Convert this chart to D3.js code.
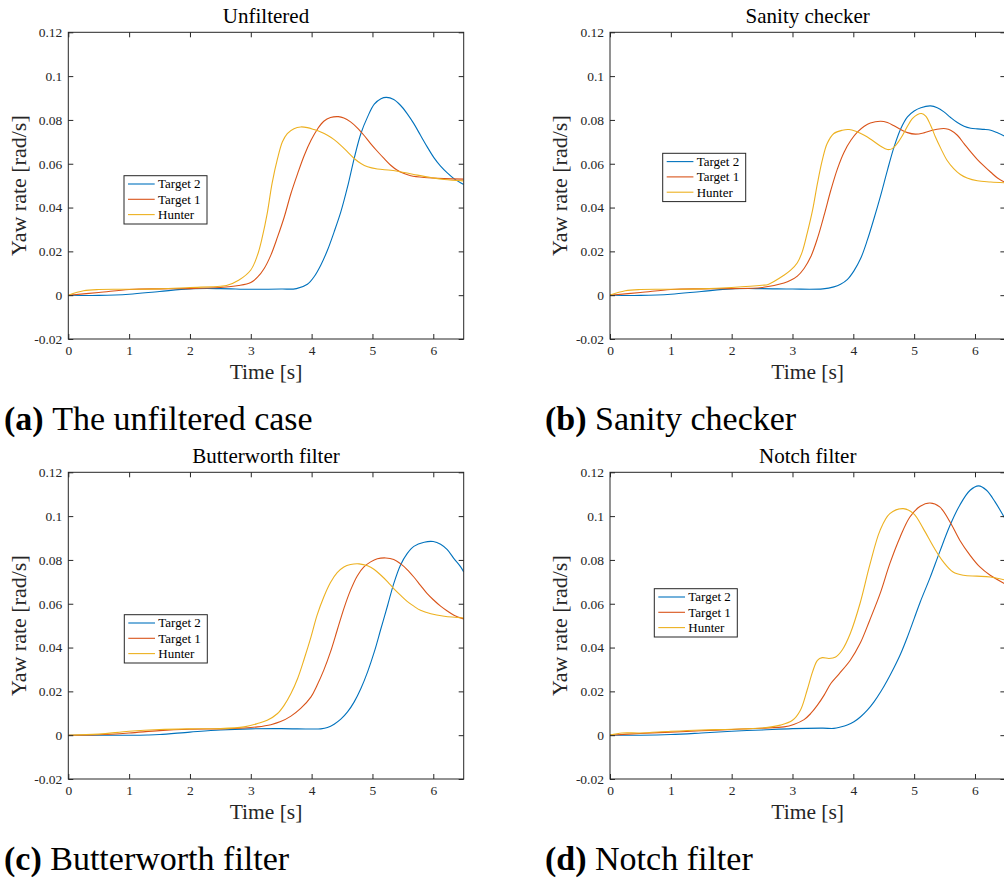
<!DOCTYPE html>
<html>
<head>
<meta charset="utf-8">
<script src="https://cdn.jsdelivr.net/npm/d3@7"></script>
<style>
  html, body { margin: 0; padding: 0; background: #fff; }
  svg { display: block; }
  text { font-family: "Liberation Serif", "Times New Roman", serif; }
</style>
</head>
<body>
<svg id="fig" width="1004" height="879"></svg>
<script>
// Yaw rate [rad/s] against time [s]; each series is a list of [time, yaw rate] pairs.

// (a) Unfiltered
const unfilteredTarget2 = [[0,0],[0.5,-0.0001],[1.0,0.0004],[1.5,0.0017],[2.0,0.0029],[2.5,0.003],[3.0,0.0027],[3.5,0.0028],[3.75,0.003],[3.93,0.005],[4.04,0.0084],[4.15,0.0137],[4.26,0.0205],[4.37,0.0289],[4.48,0.038],[4.59,0.0494],[4.7,0.0625],[4.81,0.0738],[4.92,0.0814],[5.03,0.0872],[5.14,0.0897],[5.23,0.0903],[5.35,0.0893],[5.46,0.0867],[5.57,0.0829],[5.68,0.0783],[5.79,0.073],[5.9,0.0677],[6.01,0.0628],[6.12,0.0589],[6.23,0.0558],[6.34,0.0532],[6.5,0.0505]];
const unfilteredTarget1 = [[0,0],[0.5,0.0012],[1.0,0.0026],[1.5,0.0029],[2.0,0.003],[2.5,0.0035],[2.8,0.0044],[3.0,0.0058],[3.11,0.0082],[3.22,0.0122],[3.33,0.0183],[3.44,0.0266],[3.55,0.0357],[3.66,0.0464],[3.77,0.0555],[3.88,0.0639],[3.99,0.0707],[4.1,0.076],[4.2,0.0794],[4.31,0.0811],[4.44,0.0815],[4.53,0.0809],[4.64,0.0791],[4.75,0.0764],[4.86,0.073],[4.97,0.0692],[5.08,0.0657],[5.19,0.0624],[5.3,0.0593],[5.41,0.057],[5.52,0.0555],[5.63,0.0545],[5.85,0.0537],[6.18,0.0532],[6.5,0.053]];
const unfilteredHunter = [[0,0],[0.25,0.002],[0.5,0.0026],[1.0,0.0027],[1.5,0.0029],[2.0,0.0035],[2.5,0.0041],[2.6,0.0044],[2.8,0.0068],[3.0,0.0115],[3.11,0.0183],[3.19,0.0266],[3.27,0.0373],[3.35,0.051],[3.44,0.0624],[3.52,0.07],[3.6,0.0738],[3.71,0.076],[3.82,0.0768],[3.93,0.0765],[4.04,0.0756],[4.15,0.0745],[4.26,0.073],[4.37,0.071],[4.48,0.0684],[4.59,0.0654],[4.7,0.0624],[4.81,0.0601],[4.92,0.0586],[5.08,0.0576],[5.3,0.057],[5.52,0.056],[5.74,0.0548],[5.96,0.0537],[6.18,0.0528],[6.5,0.0522]];

// (b) Sanity checker
const sanityTarget2 = [[0,0],[0.5,-0.0001],[1.0,0.0004],[1.5,0.0017],[2.0,0.0029],[2.5,0.003],[3.0,0.0028],[3.5,0.0029],[3.68,0.0038],[3.79,0.005],[3.9,0.0071],[4.01,0.0111],[4.12,0.0167],[4.23,0.0251],[4.34,0.035],[4.45,0.0456],[4.56,0.057],[4.67,0.0677],[4.78,0.076],[4.89,0.0814],[5.0,0.0841],[5.11,0.0856],[5.27,0.0864],[5.38,0.0856],[5.49,0.0837],[5.6,0.0811],[5.71,0.0788],[5.82,0.0771],[5.93,0.0762],[6.04,0.0759],[6.15,0.0757],[6.26,0.0753],[6.37,0.0741],[6.5,0.0724]];
const sanityTarget1 = [[0,0],[0.5,0.0012],[1.0,0.0026],[1.5,0.0029],[2.0,0.003],[2.5,0.0035],[2.86,0.0056],[2.97,0.0068],[3.08,0.0087],[3.19,0.0122],[3.3,0.0175],[3.41,0.0259],[3.52,0.0365],[3.63,0.0479],[3.74,0.0578],[3.85,0.0654],[3.96,0.0707],[4.07,0.0745],[4.18,0.0771],[4.28,0.0786],[4.45,0.0794],[4.56,0.0788],[4.67,0.0773],[4.78,0.0756],[4.89,0.0742],[5.02,0.0735],[5.16,0.0741],[5.3,0.0753],[5.44,0.076],[5.52,0.076],[5.6,0.0753],[5.71,0.073],[5.82,0.0692],[5.93,0.0654],[6.04,0.0619],[6.15,0.0589],[6.26,0.0561],[6.37,0.0535],[6.5,0.0514]];
const sanityHunter = [[0,0],[0.25,0.002],[0.5,0.0026],[1.0,0.0027],[1.5,0.0029],[2.0,0.0035],[2.5,0.0045],[2.6,0.0049],[2.86,0.0091],[2.97,0.0114],[3.08,0.0148],[3.16,0.0198],[3.24,0.0281],[3.33,0.0388],[3.41,0.051],[3.49,0.0616],[3.57,0.0692],[3.68,0.0738],[3.82,0.0753],[3.93,0.0756],[4.04,0.0748],[4.18,0.073],[4.31,0.0707],[4.45,0.068],[4.56,0.0665],[4.64,0.0669],[4.72,0.0692],[4.81,0.073],[4.89,0.0771],[4.97,0.0806],[5.05,0.0824],[5.12,0.0829],[5.19,0.0817],[5.27,0.0776],[5.35,0.0722],[5.44,0.0669],[5.54,0.0616],[5.65,0.0578],[5.76,0.0551],[5.87,0.0535],[6.04,0.0522],[6.26,0.0517],[6.5,0.0513]];

// (c) Butterworth filter
const butterTarget2 = [[0,0],[0.5,0],[1.0,0],[1.3,0.0001],[1.5,0.0003],[2.0,0.0014],[2.5,0.0024],[3.0,0.0029],[3.5,0.003],[4.0,0.0028],[4.15,0.0029],[4.26,0.0035],[4.37,0.005],[4.48,0.0073],[4.59,0.0106],[4.7,0.0152],[4.81,0.0213],[4.92,0.0289],[5.03,0.038],[5.14,0.0487],[5.25,0.0593],[5.35,0.0692],[5.46,0.0776],[5.57,0.0829],[5.68,0.0862],[5.85,0.0881],[6.0,0.0884],[6.12,0.0872],[6.23,0.0847],[6.34,0.0806],[6.45,0.0768],[6.5,0.0745]];
const butterTarget1 = [[0,0],[0.5,0.0002],[1.0,0.001],[1.5,0.0021],[2.0,0.0027],[2.5,0.0029],[2.89,0.0033],[3.11,0.0038],[3.33,0.0048],[3.49,0.0062],[3.66,0.0087],[3.82,0.0122],[3.99,0.0175],[4.09,0.0228],[4.2,0.0297],[4.31,0.038],[4.42,0.0479],[4.53,0.0578],[4.64,0.0662],[4.75,0.0727],[4.86,0.0768],[4.97,0.0791],[5.08,0.0805],[5.22,0.0809],[5.35,0.0802],[5.46,0.0783],[5.57,0.0756],[5.68,0.0722],[5.79,0.0684],[5.9,0.0646],[6.01,0.0616],[6.12,0.0589],[6.23,0.0567],[6.34,0.0548],[6.5,0.0531]];
const butterHunter = [[0,0],[0.5,0.0005],[1.0,0.0018],[1.5,0.0026],[2.0,0.0029],[2.5,0.003],[2.89,0.0038],[3.11,0.0053],[3.27,0.0068],[3.44,0.0099],[3.55,0.0137],[3.66,0.019],[3.77,0.0259],[3.88,0.035],[3.99,0.0449],[4.09,0.0548],[4.2,0.0631],[4.31,0.0697],[4.42,0.0742],[4.53,0.0768],[4.64,0.0779],[4.78,0.0782],[4.92,0.0773],[5.03,0.0756],[5.14,0.073],[5.25,0.07],[5.35,0.0669],[5.46,0.0639],[5.57,0.0611],[5.68,0.0589],[5.79,0.057],[5.96,0.0554],[6.18,0.0543],[6.5,0.0535]];

// (d) Notch filter
const notchTarget2 = [[0,0],[0.5,0],[1.0,0.0003],[1.5,0.001],[2.0,0.0018],[2.5,0.0024],[3.0,0.003],[3.5,0.0032],[3.68,0.0031],[3.79,0.0037],[3.9,0.0046],[4.01,0.0061],[4.12,0.0084],[4.23,0.0114],[4.34,0.0152],[4.45,0.0198],[4.56,0.0251],[4.67,0.0309],[4.78,0.0373],[4.89,0.0449],[5.0,0.0532],[5.1,0.0608],[5.26,0.0718],[5.42,0.0837],[5.59,0.0958],[5.75,0.105],[5.92,0.1118],[6.06,0.1138],[6.19,0.1118],[6.33,0.1065],[6.5,0.0985]];
const notchTarget1 = [[0,0],[0.5,0.0008],[1.0,0.0014],[1.5,0.002],[2.0,0.0026],[2.5,0.0032],[2.86,0.0038],[3.02,0.0049],[3.19,0.0071],[3.3,0.0099],[3.41,0.0137],[3.52,0.0183],[3.63,0.0236],[3.76,0.0278],[3.95,0.0342],[4.11,0.0418],[4.27,0.0525],[4.44,0.0646],[4.6,0.0783],[4.77,0.0905],[4.93,0.0996],[5.1,0.1045],[5.26,0.106],[5.42,0.1042],[5.59,0.0973],[5.75,0.089],[5.92,0.0821],[6.08,0.0768],[6.25,0.073],[6.5,0.069]];
const notchHunter = [[0,0],[0.2,0.001],[0.5,0.001],[1.0,0.0018],[1.5,0.0024],[2.0,0.0027],[2.5,0.0033],[2.8,0.0046],[3.0,0.0068],[3.13,0.0114],[3.24,0.0205],[3.33,0.0289],[3.41,0.0342],[3.49,0.0354],[3.6,0.035],[3.71,0.0357],[3.82,0.039],[3.95,0.0464],[4.11,0.0601],[4.27,0.0776],[4.44,0.0935],[4.6,0.1011],[4.82,0.1034],[4.99,0.1011],[5.15,0.0943],[5.32,0.0859],[5.48,0.0791],[5.64,0.0745],[5.81,0.073],[6.03,0.0726],[6.25,0.0722],[6.5,0.0708]];

const seriesNames = ["Target 2", "Target 1", "Hunter"];
const seriesColors = ["#0072BD", "#D95319", "#EDB120"];
const xTicks = [0, 1, 2, 3, 4, 5, 6];
const yTicks = [-0.02, 0, 0.02, 0.04, 0.06, 0.08, 0.1, 0.12];
const yTickLabels = ["-0.02", "0", "0.02", "0.04", "0.06", "0.08", "0.1", "0.12"];
const titles = ["Unfiltered", "Sanity checker", "Butterworth filter", "Notch filter"];
const captionTags = ["(a)", "(b)", "(c)", "(d)"];
const captionTexts = ["The unfiltered case", "Sanity checker", "Butterworth filter", "Notch filter"];
const panelData = [
  [unfilteredTarget2, unfilteredTarget1, unfilteredHunter],
  [sanityTarget2, sanityTarget1, sanityHunter],
  [butterTarget2, butterTarget1, butterHunter],
  [notchTarget2, notchTarget1, notchHunter]
];

// Layout of the 2x2 grid
const plotW = 395.4, plotH = 306.7;
const panelOrigins = [[68.3, 32.3], [610, 32.3], [68.3, 472.3], [610, 472.3]];
const yLabelX = [25.5, 567.2, 25.5, 567.2];
const legendOffsets = [[55.7, 143.4], [52.7, 121], [56, 142.4], [44.3, 116.4]];
const captionPos = [[4, 429.5], [545, 429.5], [4, 869.5], [545, 869.5]];
const axisColor = "#262626";
const fontStack = '"Liberation Serif", "Times New Roman", serif';

const svg = d3.select("#fig");
svg.append("rect").attr("width", 1004).attr("height", 879).attr("fill", "#fff");

const x = d3.scaleLinear().domain([0, 6.5]).range([0, plotW]);
const y = d3.scaleLinear().domain([-0.02, 0.12]).range([plotH, 0]);
const line = d3.line().x(d => x(d[0])).y(d => y(d[1])).curve(d3.curveCatmullRom.alpha(0.5));

panelData.forEach((series, i) => {
  const [ox, oy] = panelOrigins[i];
  const g = svg.append("g").attr("transform", `translate(${ox},${oy})`);

  const clipId = "clip" + i;
  g.append("clipPath").attr("id", clipId)
    .append("rect").attr("width", plotW).attr("height", plotH);

  // curves
  const curves = g.append("g").attr("clip-path", `url(#${clipId})`);
  series.forEach((s, k) => {
    curves.append("path").datum(s)
      .attr("d", line)
      .attr("fill", "none")
      .attr("stroke", seriesColors[k])
      .attr("stroke-width", 1.1)
      .attr("stroke-linejoin", "round");
  });

  // axes with inward ticks on all four sides
  const styleAxis = sel => {
    sel.select(".domain").remove();
    sel.selectAll(".tick line").attr("stroke", axisColor);
    sel.selectAll(".tick text").attr("fill", axisColor)
      .style("font-family", fontStack)
      .style("font-size", "13.5px");
  };
  g.append("g").attr("transform", `translate(0,${plotH})`)
    .call(d3.axisBottom(x).tickValues(xTicks).tickFormat(d3.format("d")).tickSize(-5).tickPadding(6.5))
    .call(styleAxis);
  g.append("g")
    .call(d3.axisTop(x).tickValues(xTicks).tickFormat("").tickSize(-5))
    .call(styleAxis);
  g.append("g")
    .call(d3.axisLeft(y).tickValues(yTicks).tickFormat((d, j) => yTickLabels[j]).tickSize(-5).tickPadding(6))
    .call(styleAxis);
  g.append("g").attr("transform", `translate(${plotW},0)`)
    .call(d3.axisRight(y).tickValues(yTicks).tickFormat("").tickSize(-5))
    .call(styleAxis);

  g.append("rect").attr("width", plotW).attr("height", plotH)
    .attr("fill", "none").attr("stroke", axisColor).attr("stroke-width", 1);

  // title and axis labels
  g.append("text").attr("x", plotW / 2).attr("y", -9.5)
    .attr("text-anchor", "middle").attr("font-size", 21).attr("fill", "#000")
    .text(titles[i]);
  g.append("text").attr("x", plotW / 2).attr("y", plotH + 40)
    .attr("text-anchor", "middle").attr("font-size", 21.5).attr("fill", axisColor)
    .text("Time [s]");
  g.append("text")
    .attr("transform", `translate(${yLabelX[i] - ox},${plotH / 2}) rotate(-90)`)
    .attr("text-anchor", "middle").attr("font-size", 22).attr("fill", axisColor)
    .text("Yaw rate [rad/s]");

  // legend
  const [lx, ly] = legendOffsets[i];
  const lg = g.append("g").attr("transform", `translate(${lx},${ly})`);
  lg.append("rect").attr("width", 83).attr("height", 48.3)
    .attr("fill", "#fff").attr("stroke", axisColor).attr("stroke-width", 1);
  seriesNames.forEach((name, k) => {
    const yy = 8.3 + k * 15.3;
    lg.append("line").attr("x1", 4).attr("x2", 30.7).attr("y1", yy).attr("y2", yy)
      .attr("stroke", seriesColors[k]).attr("stroke-width", 1.1);
    lg.append("text").attr("x", 34).attr("y", yy + 4.4)
      .attr("font-size", 13).attr("fill", "#000").text(name);
  });
});

// subfigure captions
captionTags.forEach((tag, i) => {
  const t = svg.append("text").attr("x", captionPos[i][0]).attr("y", captionPos[i][1])
    .attr("font-size", 34).attr("fill", "#000");
  t.append("tspan").attr("font-weight", "bold").text(tag);
  t.append("tspan").text("\u00a0" + captionTexts[i]);
});
</script>
</body>
</html>
